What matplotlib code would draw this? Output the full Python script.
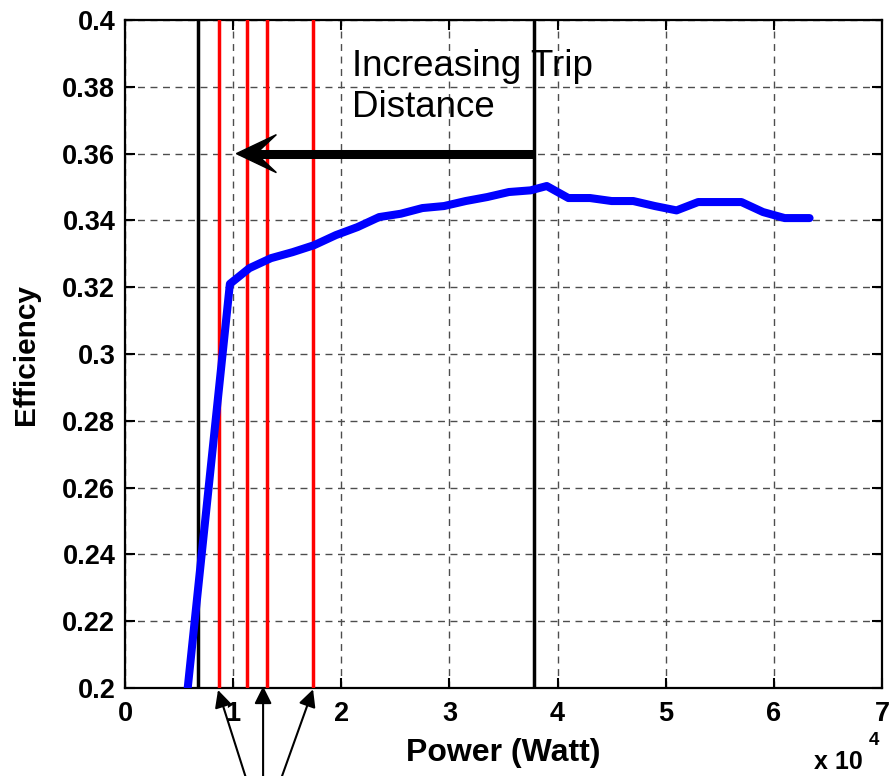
import matplotlib
matplotlib.use("Agg")
import matplotlib.pyplot as plt
from matplotlib.patches import Polygon

plt.rcParams['font.family'] = ['Liberation Sans', 'DejaVu Sans']

# efficiency curve (power in units of 1e4 W)
power = [0.58, 0.97, 1.15, 1.35, 1.55, 1.75, 1.95, 2.15, 2.35, 2.55, 2.75, 2.95,
         3.15, 3.35, 3.55, 3.75, 3.9, 4.1, 4.3, 4.5, 4.7, 4.9, 5.1, 5.3, 5.5,
         5.7, 5.9, 6.1, 6.33]
efficiency = [0.200, 0.321, 0.3257, 0.3287, 0.3305, 0.3326, 0.3356, 0.338, 0.341,
              0.342, 0.3437, 0.3443, 0.3458, 0.347, 0.3485, 0.349, 0.3503, 0.3467,
              0.3467, 0.3458, 0.3458, 0.3443, 0.343, 0.3455, 0.3455, 0.3455,
              0.3425, 0.3407, 0.3407]

black_lines = [0.675, 3.78]
red_lines = [0.87, 1.13, 1.31, 1.74]

xticks = [0, 1, 2, 3, 4, 5, 6, 7]
yticks = [0.2, 0.22, 0.24, 0.26, 0.28, 0.3, 0.32, 0.34, 0.36, 0.38, 0.4]
yticklabels = ['0.2', '0.22', '0.24', '0.26', '0.28', '0.3', '0.32', '0.34',
               '0.36', '0.38', '0.4']

fig = plt.figure(figsize=(8.96, 7.76), dpi=100)
ax = fig.add_axes([0.1395, 0.1134, 0.8449, 0.8608])

for x in black_lines:
    ax.axvline(x, color='black', lw=2.5, zorder=3)
for x in red_lines:
    ax.axvline(x, color='red', lw=2.5, zorder=3)

ax.plot(power, efficiency, color='blue', lw=5.8, solid_capstyle='round', zorder=4)

ax.set_xlim(0, 7)
ax.set_ylim(0.2, 0.4)
ax.set_xticks(xticks)
ax.set_xticklabels([str(t) for t in xticks])
ax.set_yticks(yticks)
ax.set_yticklabels(yticklabels)
ax.grid(True, color='0.3', linestyle=(0, (5, 4)), lw=1.0)
ax.tick_params(direction='in', length=7, width=1.5, top=True, right=True,
               labelsize=19.5)
ax.tick_params(axis='x', pad=9)
ax.tick_params(axis='y', pad=7)
for lab in ax.get_xticklabels() + ax.get_yticklabels():
    lab.set_fontweight('bold')
for s in ax.spines.values():
    s.set_linewidth(1.6)

ax.set_xlabel('Power (Watt)', fontsize=23, fontweight='bold', labelpad=8)
ax.set_ylabel('Efficiency', fontsize=21.5, fontweight='bold', labelpad=16)

ax.text(2.1, 0.3912, 'Increasing Trip\nDistance', fontsize=26.5, va='top',
        ha='left', linespacing=1.2)

# big arrow with swept-back head, drawn in pixel offsets from the tip
tip = ax.transData.transform((1.03, 0.36))
tail = ax.transData.transform((3.78, 0.36))
ax.plot([tip[0] + 24, tail[0]], [tip[1], tail[1]], color='black', lw=6.5,
        solid_capstyle='butt', transform=None, zorder=5)
head = [(0, 0), (40, 19), (24, 4), (24, -4), (40, -19)]
ax.add_patch(Polygon([(tip[0] + dx, tip[1] + dy) for dx, dy in head],
                     closed=True, color='black', transform=None, zorder=5))

# arrows pointing to the red lines from below
tails = [(1.129, 0.172), (1.277, 0.172), (1.434, 0.172)]
tips = [(0.86, 0.1994), (1.277, 0.2005), (1.739, 0.1996)]
for (tx, ty), (hx, hy) in zip(tails, tips):
    ax.annotate('', xy=(hx, hy), xytext=(tx, ty), annotation_clip=False,
                arrowprops=dict(arrowstyle='-|>', lw=1.5, color='black',
                                mutation_scale=26, shrinkA=0, shrinkB=0))

fig.text(0.909, 0.003, 'x 10', fontsize=18, fontweight='bold', ha='left', va='bottom')
fig.text(0.970, 0.035, '4', fontsize=13.5, fontweight='bold', ha='left', va='bottom')

fig.savefig('out.png', dpi=100)
